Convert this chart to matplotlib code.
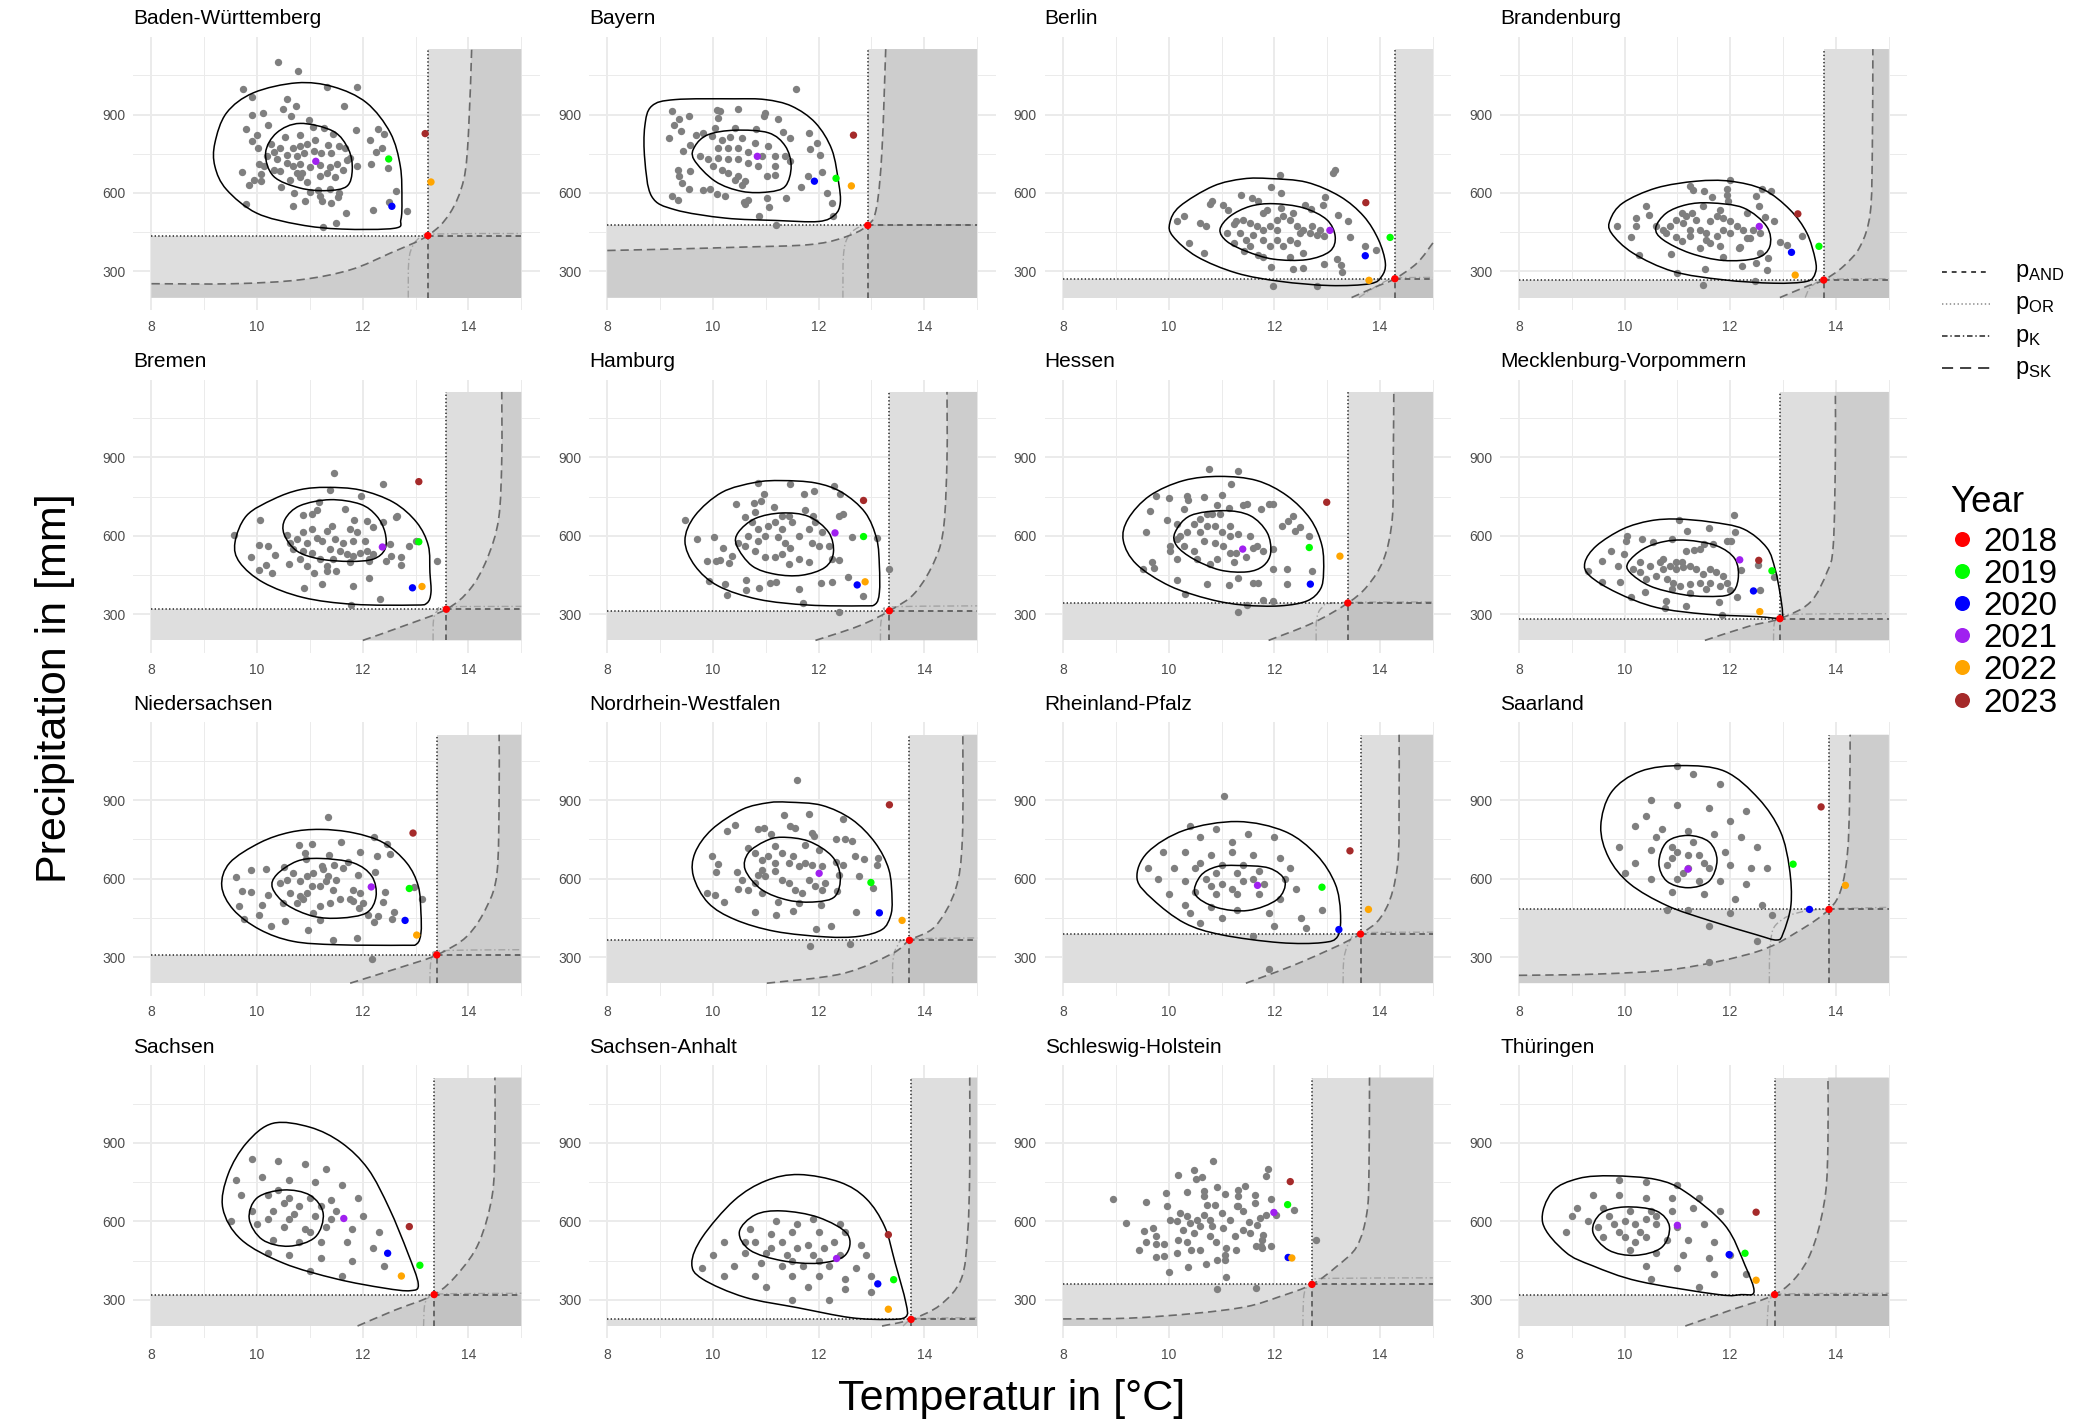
"""Temperature vs precipitation per German state with copula contours and joint-threshold regions."""

import matplotlib
matplotlib.use("Agg")
import matplotlib.pyplot as plt
import numpy as np
from matplotlib.path import Path
from matplotlib.patches import PathPatch, Rectangle

plt.rcParams["font.family"] = ["Liberation Sans", "DejaVu Sans"]
plt.rcParams["mathtext.fontset"] = "custom"
plt.rcParams["mathtext.rm"] = "Liberation Sans"
plt.rcParams["lines.scale_dashes"] = False

YEARS = ["2018", "2019", "2020", "2021", "2022", "2023"]
YEAR_COLORS = ["#FF0000", "#00FF00", "#0000FF", "#A020F0", "#FFA500", "#A52A2A"]

# shading extent (data units)
T_LO, T_HI = 8, 15
P_LO, P_HI = 200, 1150

# ---- Baden-Württemberg
BW_POINTS = [(10.39,1100),(10.77,1068),(11.33,1006),(11.89,1005),(9.74,996),(9.91,966),(10.56,960),(10.73,932),(11.64,934),(10.49,922),(10.12,906),(9.91,900),(10.64,894),(10.98,878),(10.2,858),(11.87,840),(12.29,843),(12.4,827),(9.78,843),(9.99,823),(12.14,802),(9.9,798),(12.25,757),(12.37,772),(12.15,712),(12.48,696),(12.63,608),(12.49,564),(12.2,536),(12.83,532),(11.68,523),(11.49,485),(11.25,470),(9.78,558),(9.72,680),(9.85,632),(9.94,649),(10.08,645),(10.45,623),(10.7,600),(10.68,549),(10.9,568),(11.0,604),(11.16,613),(11.38,616),(11.54,600),(11.53,585),(11.39,560),(11.22,571),(11.19,590),
             (10.02,772),(10.26,789),(10.53,814),(10.81,820),(11.05,853),(11.27,849),(11.44,827),(10.94,789),(11.1,804),(10.68,772),(10.81,779),(10.43,772),(10.31,757),(10.56,747),(10.75,740),(10.89,753),(11.07,760),(11.2,751),(11.39,751),(11.54,779),(11.67,772),(11.71,725),(11.51,712),(11.38,700),(11.19,706),(11.0,700),(10.81,709),(10.68,702),(10.56,715),(10.37,728),(10.18,740),(10.04,711),(10.13,702),(10.07,674),(10.31,689),(10.43,683),(10.75,677),(10.81,661),(10.62,651),(10.94,643),(11.19,664),(11.32,677),(11.47,661),(11.63,687),(11.89,702),(11.76,734),(11.34,784),(10.84,677)]
BW_YEARS = [(13.23,437),(12.49,730),(12.55,549),(11.11,721),(13.29,642),(13.18,827)]
BW_OUTER = [(10.75,1021),(11.44,1006),(12.07,945),(12.52,830),(12.71,702),(12.74,574),(12.72,498),(12.6,465),(11.6,462),(10.8,479),(9.99,523),(9.42,613),(9.2,702),(9.2,791),(9.42,906),(9.93,983)]
BW_INNER = [(10.81,866),(11.44,836),(11.73,766),(11.8,689),(11.7,626),(11.32,609),(10.81,619),(10.31,664),(10.16,753),(10.37,830)]
BW_SK = [(8,253),(9.55,253),(10.81,268),(11.76,306),(12.52,370),(13.23,437),(13.65,523),(13.91,651),(14.0,830),(14.06,1150)]
BW_K = [(12.86,200),(12.87,340),(12.95,400),(13.1,432),(13.3,443),(15,445)]

# ---- Bayern
BY_POINTS = [(11.58,998),(9.23,913),(9.36,883),(9.55,896),(9.26,858),(9.4,836),(9.17,811),(10.07,919),(10.14,915),(10.48,922),(10.98,906),(10.96,894),(11.23,883),(10.1,887),(10.03,849),(10.42,849),(10.81,845),(11.33,834),(11.46,811),(11.82,830),(11.97,792),(11.83,768),(12.03,746),(12.07,679),(11.79,664),(11.67,622),(12.15,600),(12.25,562),(12.28,511),(11.2,479),(10.87,511),(11.39,581),(11.06,546),(11.02,581),(10.58,564),(10.22,587),(10.07,597),(9.95,615),(9.82,613),(9.55,617),(9.41,638),(9.36,664),(9.33,689),(9.22,590),(9.33,574),(9.44,762),(9.57,783),(9.68,823),(9.82,830),(9.98,817),(10.17,804),(10.32,814),(10.55,811),(10.8,792),(11.05,779),(11.18,740),(11.36,740),(11.46,721),(11.18,702),(11.18,670),(11.02,664),(10.86,702),(10.67,715),(10.48,728),(10.29,728),(10.1,734),(9.91,728),(10.01,702),(10.17,689),(10.29,676),(10.48,664),(10.61,645),(10.55,632),(10.42,651),(10.29,772),(10.1,772),(10.48,772),(10.67,756),(10.92,740),(9.76,743),(9.57,683),(10.67,574),(10.61,559)]
BY_YEARS = [(12.93,476),(12.33,656),(11.92,645),(10.84,740),(12.62,627),(12.66,821)]
BY_OUTER = [(9.28,957),(10.4,960),(10.99,957),(11.49,932),(11.94,868),(12.25,766),(12.38,638),(12.41,562),(12.31,517),(12.0,491),(11.18,495),(10.23,504),(9.28,536),(8.84,587),(8.71,728),(8.71,855),(8.84,932)]
BY_INNER = [(10.42,840),(11.05,830),(11.37,779),(11.48,702),(11.37,626),(11.05,604),(10.55,606),(10.04,645),(9.64,728),(9.66,779),(9.91,823)]
BY_SK = [(8,380),(9.3,386),(10.55,393),(11.8,402),(12.45,428),(12.93,476),(13.1,549),(13.2,766),(13.27,1150)]
BY_K = [(12.46,200),(12.47,360),(12.55,430),(12.75,468),(13.0,476),(15,478)]

# ---- Berlin
BE_POINTS = [(12.1,668),(11.93,622),(12.12,600),(13.15,687),(13.11,677),(12.95,585),(12.92,553),(10.81,570),(10.78,559),(11.03,555),(11.37,593),(11.58,580),(11.69,568),(11.86,536),(12.13,543),(12.58,553),(12.69,540),(13.2,517),(13.39,491),(10.29,511),(10.16,491),(10.59,487),(10.7,472),(10.39,408),(10.67,370),(11.13,534),(11.24,483),(11.1,447),(11.24,409),(11.43,377),(11.68,362),(11.93,316),(11.97,243),(12.36,309),(12.55,313),(12.81,246),(12.93,329),(13.18,347),(13.26,325),(13.27,296),(13.43,431),(13.72,396),(13.92,383),(11.28,491),(11.41,498),(11.54,485),(11.67,472),(11.79,460),(11.92,472),(12.04,498),(12.17,511),(12.29,498),(12.42,472),(12.55,460),(12.67,447),(12.8,440),(12.93,434),(12.86,460),(12.71,475),(12.48,447),(12.29,421),(12.17,396),(12.04,421),(11.92,396),(11.79,421),(11.6,440),(11.47,421),(11.35,447),(12.42,409),(12.55,370),(12.29,357),(11.79,357),(11.54,396),(12.04,460),(12.36,523),(11.79,523)]
BE_YEARS = [(14.28,272),(14.19,430),(13.72,360),(13.05,457),(13.79,266),(13.73,563)]
BE_OUTER = [(11.92,655),(12.61,641),(13.24,587),(13.69,511),(13.97,421),(14.1,332),(14.03,281),(13.81,253),(13.05,246),(12.11,262),(11.28,294),(10.53,357),(10.08,434),(10.02,485),(10.21,549),(10.84,626),(11.41,654)]
BE_INNER = [(11.98,559),(12.55,543),(12.99,498),(13.15,434),(13.05,377),(12.61,345),(11.98,347),(11.47,377),(11.1,415),(10.97,460),(11.16,511),(11.54,549)]
BE_SK = [(13.46,200),(13.94,243),(14.28,272),(14.7,332),(15,409)]
BE_K = [(13.6,200),(13.9,240),(14.1,262),(14.3,275),(15,277)]

# ---- Brandenburg
BB_POINTS = [(12.0,651),(11.24,628),(11.29,610),(11.51,606),(11.65,584),(11.94,616),(11.94,593),(11.96,568),(12.61,616),(12.77,606),(12.48,587),(12.55,549),(10.41,551),(10.46,517),(10.21,504),(10.22,472),(9.85,472),(10.13,431),(10.28,364),(10.88,368),(11.0,294),(11.49,249),(11.53,309),(11.87,357),(12.19,393),(12.23,319),(12.48,332),(12.69,306),(12.71,351),(12.46,264),(12.94,412),(13.07,400),(13.35,434),(12.83,491),(12.66,508),(12.31,523),(10.73,460),(10.6,472),(10.79,447),(10.98,431),(11.11,485),(11.17,511),(11.27,523),(11.36,498),(11.43,460),(11.55,447),(11.62,491),(11.75,511),(11.87,504),(12.0,491),(12.13,472),(12.25,460),(12.38,428),(12.44,460),(12.57,447),(11.87,460),(11.75,434),(11.62,409),(11.43,389),(11.24,434),(11.08,415),(10.98,498),(11.08,523),(11.49,549),(11.81,536),(12.0,447),(12.16,389),(12.31,428),(12.57,370),(11.81,396),(11.55,421),(11.24,460),(10.86,472)]
BB_YEARS = [(13.77,267),(13.68,396),(13.16,373),(12.55,472),(13.23,286),(13.28,520)]
BB_OUTER = [(12.0,645),(12.63,613),(13.13,536),(13.45,447),(13.61,345),(13.61,294),(13.45,262),(12.82,255),(11.87,268),(10.92,300),(10.16,370),(9.75,447),(9.73,498),(9.97,562),(10.6,619),(11.36,645)]
BB_INNER = [(11.62,562),(12.25,543),(12.69,472),(12.75,396),(12.5,351),(11.87,342),(11.24,370),(10.73,421),(10.59,466),(10.79,523),(11.17,555)]
BB_SK = [(12.94,200),(13.45,243),(13.77,267),(14.14,319),(14.46,396),(14.65,523),(14.69,766),(14.7,1150)]
BB_K = [(13.42,200),(13.5,235),(13.65,260),(13.8,270),(15,272)]

# ---- Bremen
HB_POINTS = [(11.46,839),(12.39,798),(9.56,602),(10.05,660),(11.38,775),(11.97,753),(11.18,728),(11.67,702),(11.13,700),(10.87,679),(11.03,683),(12.64,677),(12.63,670),(12.38,651),(11.83,660),(12.07,657),(12.2,632),(12.51,570),(12.87,559),(13.0,581),(12.73,519),(13.4,504),(10.04,564),(10.21,559),(9.89,519),(10.34,525),(10.16,489),(10.03,468),(10.28,457),(10.61,493),(10.89,402),(11.08,459),(11.23,415),(11.33,464),(11.82,409),(12.11,438),(12.32,358),(11.78,334),(12.44,504),(12.53,523),(12.73,489),(12.11,502),(10.56,602),(10.62,574),(10.75,587),(10.87,613),(10.94,574),(11.03,625),(11.13,593),(11.22,581),(11.32,619),(11.41,638),(11.47,587),(11.57,543),(11.44,511),(11.32,485),(11.19,511),(11.03,536),(10.87,543),(10.81,511),(10.94,485),(11.76,625),(11.89,613),(11.82,581),(11.95,536),(12.07,543),(12.2,530),(12.11,511),(11.82,523),(11.7,530),(11.76,498),(11.5,466),(10.68,549),(11.38,549),(11.63,574),(12.04,581)]
HB_YEARS = [(13.58,319),(13.06,577),(12.94,401),(12.37,557),(13.12,406),(13.06,807)]
HB_OUTER = [(11.32,785),(11.95,775),(12.58,728),(13.02,651),(13.24,562),(13.27,460),(13.29,383),(13.21,342),(12.96,335),(11.82,338),(10.87,364),(10.12,421),(9.67,498),(9.58,574),(9.8,677),(10.31,740),(10.81,776)]
HB_INNER = [(11.38,738),(11.95,721),(12.26,676),(12.42,613),(12.42,549),(12.2,511),(11.76,502),(11.19,511),(10.75,542),(10.51,606),(10.53,664),(10.81,715)]
HB_SK = [(12.0,200),(12.77,255),(13.58,319),(14.03,396),(14.35,511),(14.57,664),(14.63,894),(14.63,1150)]
HB_K = [(13.33,200),(13.34,280),(13.42,315),(13.6,328),(15,330)]

# ---- Hamburg
HH_POINTS = [(10.86,802),(11.45,797),(12.3,790),(12.41,760),(10.97,760),(10.9,732),(10.77,725),(10.44,723),(11.16,709),(11.73,760),(11.92,770),(11.75,698),(11.89,674),(12.46,683),(9.47,662),(9.69,587),(10.02,597),(10.19,554),(10.36,523),(9.88,502),(10.06,504),(10.14,508),(10.3,496),(9.93,428),(10.22,415),(10.27,374),(10.63,432),(10.63,391),(10.88,402),(11.08,419),(11.19,424),(11.63,396),(11.7,344),(12.04,419),(12.25,424),(12.55,444),(12.84,368),(12.38,310),(13.33,472),(13.11,591),(12.64,594),(12.39,677),(10.61,672),(10.74,651),(10.86,625),(10.67,600),(10.86,581),(10.99,600),(11.05,638),(11.18,651),(11.3,676),(11.43,676),(11.49,651),(11.3,625),(11.24,594),(11.37,574),(11.46,555),(11.3,530),(11.18,517),(10.99,517),(10.8,543),(10.61,562),(11.62,600),(11.81,625),(11.94,651),(12.07,613),(11.88,574),(12.0,562),(12.19,562),(12.25,511),(12.38,508),(11.81,498),(11.62,511),(11.43,492),(10.8,689),(10.48,574)]
HH_YEARS = [(13.34,313),(12.85,597),(12.73,412),(12.31,611),(12.88,424),(12.85,735)]
HH_OUTER = [(11.3,811),(11.94,802),(12.44,766),(12.88,689),(13.1,587),(13.15,485),(13.15,383),(13.07,338),(12.82,332),(11.81,335),(10.86,357),(10.1,408),(9.66,485),(9.47,581),(9.66,677),(10.17,766),(10.8,804)]
HH_INNER = [(11.3,687),(11.81,674),(12.19,613),(12.28,536),(12.12,479),(11.68,449),(11.18,453),(10.74,485),(10.45,562),(10.48,613),(10.8,666)]
HH_SK = [(11.94,200),(12.76,255),(13.34,313),(13.83,383),(14.21,511),(14.37,638),(14.43,894),(14.43,1150)]
HH_K = [(13.17,200),(13.18,270),(13.25,310),(13.4,328),(15,332)]

# ---- Hessen
HE_POINTS = [(10.76,855),(11.31,849),(11.17,798),(9.76,753),(10.01,743),(10.35,753),(10.36,738),(10.66,747),(11.0,755),(9.64,696),(9.97,662),(10.15,645),(10.29,704),(11.14,708),(11.4,717),(11.49,720),(11.75,704),(11.89,720),(11.97,720),(12.15,638),(12.25,657),(12.36,676),(12.48,632),(12.39,619),(12.66,600),(9.57,615),(9.68,500),(9.52,472),(9.72,475),(10.02,543),(10.15,513),(10.15,429),(10.31,378),(10.73,417),(11.14,411),(11.32,438),(11.6,421),(11.68,421),(11.98,472),(12.23,472),(12.23,415),(11.79,354),(11.97,351),(11.49,334),(11.31,308),(12.71,464),(11.6,555),(11.79,543),(11.97,549),(11.47,517),(11.23,498),(10.91,511),(10.78,491),(10.53,511),(10.47,543),(10.28,562),(10.22,600),(10.34,613),(10.47,645),(10.59,664),(10.72,683),(10.82,683),(10.97,683),(11.16,638),(11.32,606),(11.16,600),(11.0,613),(10.87,638),(10.72,638),(10.59,613),(10.66,581),(10.87,574),(11.03,562),(11.16,536),(11.28,536),(11.54,600),(11.67,562),(10.91,717),(10.15,587),(10.02,562)]
HE_YEARS = [(13.39,343),(12.66,555),(12.68,415),(11.4,549),(13.24,522),(12.99,728)]
HE_OUTER = [(10.97,827),(11.67,811),(12.24,753),(12.68,664),(12.9,562),(12.93,460),(12.87,396),(12.62,351),(12.11,332),(11.42,335),(10.78,357),(10.02,408),(9.39,491),(9.14,581),(9.23,664),(9.64,753),(10.28,811)]
HE_INNER = [(11.04,696),(11.54,677),(11.86,613),(11.93,536),(11.79,485),(11.48,462),(10.97,469),(10.47,511),(10.15,562),(10.12,613),(10.41,677)]
HE_SK = [(11.89,200),(12.74,268),(13.39,343),(13.76,408),(14.07,511),(14.23,664),(14.25,894),(14.26,1150)]
HE_K = [(12.79,200),(12.8,280),(12.9,325),(13.2,344),(15,347)]

# ---- Mecklenburg-Vorpommern
MV_POINTS = [(12.08,679),(11.03,660),(11.19,619),(11.6,629),(12.1,616),(10.05,600),(10.03,581),(10.33,587),(10.54,577),(10.89,587),(11.93,581),(12.01,581),(11.67,570),(11.5,568),(11.17,543),(11.32,547),(11.42,549),(9.74,543),(9.99,532),(9.57,504),(9.87,483),(9.3,466),(9.57,423),(9.91,425),(10.13,364),(10.39,385),(10.78,352),(10.77,323),(11.17,332),(11.79,345),(11.85,296),(12.0,391),(12.12,366),(12.2,468),(12.53,487),(12.56,391),(12.83,442),(10.29,498),(10.48,485),(10.67,498),(10.73,472),(10.86,485),(10.98,472),(11.11,479),(11.24,485),(11.36,472),(11.49,453),(11.62,472),(11.74,460),(11.87,447),(11.93,421),(11.81,408),(11.62,421),(11.42,421),(11.24,415),(11.05,408),(10.92,421),(10.8,434),(10.6,447),(10.41,434),(10.29,460),(10.73,511),(11.08,498),(10.89,396),(11.24,383),(11.55,396),(10.16,472),(10.98,498)]
MV_YEARS = [(12.94,283),(12.79,466),(12.44,389),(12.18,508),(12.56,310),(12.54,506)]
MV_OUTER = [(10.98,664),(11.62,653),(12.25,626),(12.69,555),(12.85,472),(12.94,383),(12.99,306),(12.94,285),(12.5,291),(11.55,300),(10.6,326),(9.85,383),(9.34,447),(9.25,498),(9.47,562),(9.97,626),(10.48,657)]
MV_INNER = [(11.17,583),(11.74,562),(12.09,511),(12.15,434),(12.0,377),(11.55,368),(11.05,377),(10.48,408),(10.1,460),(10.07,498),(10.35,549),(10.73,577)]
MV_SK = [(11.52,200),(12.37,255),(12.94,283),(13.51,345),(13.83,460),(13.95,562),(13.99,894),(13.99,1150)]
MV_K = [(12.82,200),(12.83,260),(12.9,290),(13.1,300),(15,302)]

# ---- Niedersachsen
NI_POINTS = [(11.35,835),(11.04,734),(10.8,728),(11.58,740),(12.21,758),(12.45,734),(11.95,701),(12.27,686),(12.52,694),(11.36,689),(10.91,696),(10.93,673),(11.22,647),(11.25,637),(11.46,650),(11.62,641),(11.72,665),(10.51,643),(10.17,637),(9.88,634),(9.6,606),(9.72,554),(9.88,548),(9.66,494),(9.76,447),(10.03,462),(10.2,539),(10.1,498),(10.27,420),(10.52,437),(10.96,402),(11.19,443),(11.44,364),(11.89,374),(11.93,488),(12.42,549),(12.39,511),(12.59,472),(12.55,447),(12.21,433),(12.28,458),(12.09,460),(12.23,624),(11.9,613),(13.12,520),(12.97,568),(12.17,292),(10.43,583),(10.56,596),(10.68,622),(10.81,590),(10.94,609),(11.03,571),(10.94,545),(10.81,532),(10.62,545),(10.49,507),(10.75,507),(10.87,520),(11.19,571),(11.31,590),(11.44,558),(11.57,520),(11.38,507),(11.19,494),(11.06,469),(11.76,520),(11.82,513),(12.01,507),(11.95,545),(11.82,558),(11.5,596),(11.35,609),(11.06,622)]
NI_YEARS = [(13.4,308),(12.88,562),(12.8,440),(12.16,568),(13.02,384),(12.95,774)]
NI_OUTER = [(11.19,788),(11.82,775),(12.39,737),(12.83,660),(13.05,571),(13.1,469),(13.1,392),(13.02,350),(12.77,345),(11.51,347),(10.68,360),(10.05,405),(9.55,481),(9.33,571),(9.48,660),(10.05,737),(10.62,777)]
NI_INNER = [(11.19,677),(11.82,660),(12.17,609),(12.25,532),(12.07,469),(11.57,449),(11.06,456),(10.56,500),(10.29,564),(10.37,615),(10.75,666)]
NI_SK = [(11.76,200),(12.77,264),(13.4,308),(13.97,379),(14.35,494),(14.54,622),(14.58,903),(14.58,1150)]
NI_K = [(13.27,200),(13.28,270),(13.33,305),(13.5,324),(15,328)]

# ---- Nordrhein-Westfalen
NW_POINTS = [(11.59,977),(11.34,843),(11.82,845),(12.47,826),(10.42,805),(10.26,781),(10.85,788),(10.96,792),(11.45,802),(11.56,792),(11.87,774),(11.91,764),(12.33,753),(12.49,751),(12.63,743),(11.1,769),(11.17,724),(10.67,715),(9.98,688),(10.09,655),(10.05,624),(10.45,624),(10.48,559),(9.88,545),(10.03,536),(10.2,509),(10.79,472),(11.19,460),(11.51,475),(12.04,498),(11.95,408),(12.24,419),(11.84,341),(12.6,351),(12.71,472),(12.77,609),(12.69,686),(12.86,674),(13.1,651),(13.13,679),(13.03,564),(12.47,651),(12.33,662),(12.0,709),(11.75,728),(10.8,698),(10.92,672),(11.05,685),(11.18,660),(11.3,698),(11.43,660),(11.52,685),(11.62,647),(11.75,660),(11.87,653),(12.06,647),(11.94,571),(12.06,558),(12.13,583),(12.35,551),(12.38,615),(11.81,596),(11.69,545),(11.56,558),(11.43,583),(11.3,596),(11.18,628),(10.99,609),(10.86,615),(10.8,583),(10.92,545),(11.24,509),(11.62,507),(10.67,558),(10.55,596),(10.92,634)]
NW_YEARS = [(13.72,364),(12.99,585),(13.15,469),(12.01,620),(13.58,440),(13.34,882)]
NW_OUTER = [(11.43,892),(12.06,880),(12.63,826),(13.07,737),(13.33,634),(13.39,520),(13.36,456),(13.2,405),(12.76,379),(12.13,377),(11.18,398),(10.42,443),(9.91,507),(9.63,609),(9.66,698),(9.98,788),(10.55,864),(11.05,890)]
NW_INNER = [(11.3,758),(11.81,743),(12.25,686),(12.41,609),(12.31,532),(11.94,511),(11.43,517),(10.92,558),(10.61,634),(10.67,698),(10.99,743)]
NW_SK = [(11.02,200),(12.44,236),(13.39,313),(13.72,364),(14.21,418),(14.59,558),(14.72,749),(14.73,1150)]
NW_K = [(13.4,200),(13.41,290),(13.5,345),(13.72,368),(15,373)]

# ---- Rheinland-Pfalz
RP_POINTS = [(11.05,915),(10.4,800),(10.9,790),(11.5,770),(12.0,760),(9.9,700),(10.3,700),(10.8,690),(11.2,700),(11.6,690),(12.1,680),(9.6,640),(10.1,640),(10.5,640),(10.9,620),(11.3,620),(11.7,630),(12.3,640),(9.8,600),(10.3,590),(10.7,600),(11.0,580),(11.4,590),(11.8,580),(12.4,560),(10.0,540),(10.5,550),(10.9,540),(11.3,540),(11.7,540),(12.1,520),(10.3,500),(10.8,490),(11.3,480),(11.9,470),(12.5,450),(11.0,450),(12.0,420),(12.6,410),(11.6,380),(12.9,480),(10.6,430),
             (10.6,760),(11.2,740),(10.6,660),(11.0,650),(11.4,650),(10.8,570),(11.2,560),(11.6,600),(10.4,470),(12.2,600),(11.9,255)]
RP_YEARS = [(13.63,388),(12.9,567),(13.22,405),(11.68,574),(13.78,482),(13.43,706)]
RP_OUTER = [(11.3,818),(12.2,780),(12.8,690),(13.15,580),(13.25,470),(13.2,380),(12.9,355),(12.1,355),(11.0,385),(10.3,430),(9.7,520),(9.4,600),(9.6,700),(10.3,785)]
RP_INNER = [(11.3,650),(11.9,640),(12.2,590),(12.05,520),(11.5,478),(10.9,490),(10.5,540),(10.6,610),(10.9,645)]
RP_SK = [(11.46,200),(12.5,280),(13.63,388),(14.1,480),(14.33,650),(14.36,900),(14.36,1150)]
RP_K = [(13.3,200),(13.32,300),(13.45,370),(13.65,392),(15,395)]

# ---- Saarland
SL_POINTS = [(11.0,1030),(11.3,1000),(11.8,960),(10.5,900),(11.0,880),(11.6,870),(12.3,860),(10.2,800),(10.7,790),(11.2,780),(11.7,770),(12.2,760),(9.9,720),(10.5,710),(11.0,700),(11.4,690),(11.9,700),(12.5,720),(10.2,660),(10.8,650),(11.2,640),(11.6,640),(12.0,650),(12.7,640),(10.5,600),(11.0,600),(11.4,590),(11.8,590),(12.3,580),(10.9,550),(11.5,540),(12.1,520),(12.6,500),(11.2,480),(12.0,470),(12.8,460),(11.6,420),(10.8,480),(10.0,620),(11.6,280),(12.5,360),
             (10.9,720),(11.2,690),(11.5,660),(11.1,620),(10.9,680),(11.3,740),(10.6,760),(12.0,820),(12.4,640),(10.4,840)]
SL_YEARS = [(13.87,482),(13.19,655),(13.5,482),(11.2,636),(14.18,574),(13.72,874)]
SL_OUTER = [(11.08,1032),(11.9,1010),(12.54,905),(12.95,780),(13.12,640),(13.15,500),(13.0,390),(12.88,365),(12.5,385),(11.6,440),(10.8,497),(10.1,580),(9.7,680),(9.55,800),(9.75,930),(10.3,1010)]
SL_INNER = [(11.2,765),(11.6,740),(11.75,670),(11.6,590),(11.2,565),(10.8,590),(10.65,660),(10.8,740)]
SL_SK = [(8,230),(9.5,235),(11.0,255),(12.5,320),(13.3,400),(13.87,482),(14.1,560),(14.22,700),(14.26,900),(14.27,1150)]
SL_K = [(12.74,200),(12.76,350),(12.9,430),(13.5,478),(15,490)]

# ---- Sachsen
SN_POINTS = [(9.9,840),(10.4,830),(10.9,820),(11.3,800),(9.6,760),(10.1,770),(10.6,760),(11.1,750),(11.6,740),(9.7,700),(10.2,700),(10.6,690),(11.0,690),(11.4,680),(11.9,690),(9.9,640),(10.3,640),(10.7,630),(11.1,620),(11.5,640),(12.0,620),(10.0,590),(10.5,580),(10.9,570),(11.3,580),(11.8,570),(12.3,560),(10.3,530),(10.8,520),(11.2,520),(11.7,520),(12.2,500),(10.6,470),(11.2,460),(11.8,450),(12.4,430),(11.0,410),(11.6,390),(10.2,480),(9.5,600),
             (10.4,720),(10.8,660),(10.6,610),(11.2,660),(10.2,610),(11.4,610),(10.5,670),(11.0,560)]
SN_YEARS = [(13.35,320),(13.08,432),(12.47,478),(11.64,611),(12.73,391),(12.88,580)]
SN_OUTER = [(10.3,975),(11.0,960),(11.6,900),(12.1,800),(12.5,650),(12.85,480),(13.05,360),(12.9,335),(12.4,345),(11.5,380),(10.5,440),(9.7,530),(9.35,650),(9.45,780),(9.8,900)]
SN_INNER = [(10.5,720),(11.0,700),(11.25,630),(11.1,540),(10.6,505),(10.1,530),(9.85,610),(10.0,690)]
SN_SK = [(11.9,200),(12.6,260),(13.35,320),(13.8,400),(14.2,520),(14.45,700),(14.5,900),(14.5,1150)]
SN_K = [(13.15,200),(13.17,280),(13.25,310),(13.4,322),(15,325)]

# ---- Sachsen-Anhalt
ST_POINTS = [(11.9,610),(11.2,600),(12.4,590),(10.7,570),(11.5,560),(12.0,560),(12.5,560),(10.2,520),(10.8,520),(11.3,520),(11.8,510),(12.3,520),(12.8,510),(10.0,470),(10.6,480),(11.0,480),(11.4,470),(11.9,470),(12.4,470),(10.4,430),(10.9,440),(11.3,430),(11.7,430),(12.2,430),(12.7,420),(10.2,390),(10.8,390),(11.5,390),(12.0,390),(12.5,380),(13.0,390),(11.0,350),(11.8,350),(12.5,340),(11.5,300),(12.2,300),(13.0,330),(9.8,420),(12.9,470),
             (11.6,590),(11.1,550),(11.6,500),(12.1,500),(11.1,500),(11.5,450),(12.0,450),(10.6,520)]
ST_YEARS = [(13.75,225),(13.42,377),(13.12,361),(12.34,458),(13.32,264),(13.32,549)]
ST_OUTER = [(11.63,779),(12.4,750),(12.9,687),(13.25,580),(13.45,440),(13.65,290),(13.65,235),(13.3,225),(12.6,232),(11.6,270),(10.6,310),(9.8,380),(9.6,440),(9.8,540),(10.4,680),(11.0,755)]
ST_INNER = [(11.3,640),(12.0,615),(12.55,550),(12.5,470),(12.0,440),(11.3,450),(10.7,490),(10.5,560),(10.8,625)]
ST_SK = [(13.2,200),(13.75,225),(14.3,280),(14.7,380),(14.82,550),(14.86,800),(14.86,1150)]
ST_K = [(13.6,200),(13.7,218),(13.85,228),(15,232)]

# ---- Schleswig-Holstein (no contours)
SH_POINTS = [(8.95,686),(9.19,594),(9.57,673),(9.53,562),(9.43,489),(9.57,521),(9.75,515),(9.76,462),(9.91,466),(9.91,515),(10.0,408),(9.94,708),(10.18,776),(10.48,798),(10.84,830),(10.51,763),(10.62,768),(10.35,712),(10.67,696),(10.92,730),(11.07,706),(11.31,721),(11.45,734),(11.31,696),(11.63,702),(11.87,802),(11.85,772),(11.93,687),(11.63,670),(12.03,626),(12.37,642),(12.78,527),(11.74,504),(11.93,507),(11.76,530),(11.77,500),(11.65,504),(11.27,491),(11.26,543),(11.08,498),(11.07,470),(10.92,451),(11.06,451),(11.09,389),(10.92,341),(11.66,345),(10.36,427),(10.7,437),(9.97,660),(10.02,606),(10.15,600),(10.21,632),(10.34,619),(10.41,594),(10.27,568),(10.18,530),(10.34,523),(10.47,555),(10.59,581),(10.53,606),(10.66,626),(10.78,606),(10.81,581),(10.72,664),(10.88,664),(11.0,632),(11.03,574),(11.16,606),(11.29,657),(11.41,638),(11.51,597),(11.41,568),(11.54,555),(11.67,587),(11.73,613),(11.79,549),(11.85,626),(10.43,491),(10.59,491),(10.78,543),(10.9,523),(10.15,479),(9.7,575),(9.76,543),(11.31,657),(10.66,715)]
SH_YEARS = [(12.71,359),(12.25,664),(12.26,462),(11.99,634),(12.33,460),(12.3,752)]
SH_OUTER = []
SH_INNER = []
SH_SK = [(8,227),(9.26,230),(10.53,249),(11.47,274),(12.11,313),(12.71,359),(13.18,428),(13.56,504),(13.75,632),(13.79,798),(13.8,1150)]
SH_K = [(12.54,200),(12.55,300),(12.6,345),(12.75,375),(13.0,382),(15,384)]

# ---- Thüringen
TH_POINTS = [(9.9,760),(10.4,750),(11.0,740),(9.4,700),(9.9,700),(10.4,690),(10.9,690),(11.4,690),(9.1,650),(9.6,650),(10.1,640),(10.5,640),(10.9,640),(11.3,650),(11.8,640),(9.3,600),(9.8,590),(10.2,590),(10.6,590),(11.0,580),(11.5,590),(9.6,540),(10.0,540),(10.4,540),(10.8,530),(11.2,530),(11.7,520),(10.1,490),(10.6,480),(11.1,470),(11.6,460),(12.0,470),(10.4,430),(11.0,420),(11.7,400),(12.3,400),(10.5,380),(11.4,350),(8.9,560),(9.0,620),
             (9.7,620),(10.0,600),(10.3,560),(9.9,560),(10.6,620),(10.2,520),(9.5,580),(10.4,610)]
TH_YEARS = [(12.84,320),(12.28,478),(11.98,473),(11.0,585),(12.49,375),(12.49,635)]
TH_OUTER = [(9.77,774),(10.6,760),(11.15,713),(11.9,585),(12.28,432),(12.45,330),(12.2,320),(11.78,320),(10.27,371),(9.4,430),(8.88,483),(8.45,595),(8.63,713),(9.13,764)]
TH_INNER = [(10.0,655),(10.6,640),(10.85,580),(10.7,500),(10.2,470),(9.7,490),(9.4,560),(9.55,630)]
TH_SK = [(11.15,200),(12.0,260),(12.84,320),(13.3,400),(13.6,520),(13.8,700),(13.85,900),(13.85,1150)]
TH_K = [(12.7,200),(12.72,280),(12.78,310),(12.9,322),(15,325)]

PANELS = [
    ("Baden-Württemberg", BW_POINTS, BW_YEARS, BW_OUTER, BW_INNER, BW_SK, BW_K),
    ("Bayern", BY_POINTS, BY_YEARS, BY_OUTER, BY_INNER, BY_SK, BY_K),
    ("Berlin", BE_POINTS, BE_YEARS, BE_OUTER, BE_INNER, BE_SK, BE_K),
    ("Brandenburg", BB_POINTS, BB_YEARS, BB_OUTER, BB_INNER, BB_SK, BB_K),
    ("Bremen", HB_POINTS, HB_YEARS, HB_OUTER, HB_INNER, HB_SK, HB_K),
    ("Hamburg", HH_POINTS, HH_YEARS, HH_OUTER, HH_INNER, HH_SK, HH_K),
    ("Hessen", HE_POINTS, HE_YEARS, HE_OUTER, HE_INNER, HE_SK, HE_K),
    ("Mecklenburg-Vorpommern", MV_POINTS, MV_YEARS, MV_OUTER, MV_INNER, MV_SK, MV_K),
    ("Niedersachsen", NI_POINTS, NI_YEARS, NI_OUTER, NI_INNER, NI_SK, NI_K),
    ("Nordrhein-Westfalen", NW_POINTS, NW_YEARS, NW_OUTER, NW_INNER, NW_SK, NW_K),
    ("Rheinland-Pfalz", RP_POINTS, RP_YEARS, RP_OUTER, RP_INNER, RP_SK, RP_K),
    ("Saarland", SL_POINTS, SL_YEARS, SL_OUTER, SL_INNER, SL_SK, SL_K),
    ("Sachsen", SN_POINTS, SN_YEARS, SN_OUTER, SN_INNER, SN_SK, SN_K),
    ("Sachsen-Anhalt", ST_POINTS, ST_YEARS, ST_OUTER, ST_INNER, ST_SK, ST_K),
    ("Schleswig-Holstein", SH_POINTS, SH_YEARS, SH_OUTER, SH_INNER, SH_SK, SH_K),
    ("Thüringen", TH_POINTS, TH_YEARS, TH_OUTER, TH_INNER, TH_SK, TH_K),
]

# layout in pixels
FIG_W, FIG_H, DPI = 2089, 1421, 100
COL_LEFT = [133, 588.8, 1044.6, 1500.4]
ROW_TOP = [36.7, 379.5, 722.3, 1065.1]
PANEL_W, PANEL_H = 406.8, 273.3

OR_FILL, SK_FILL, AND_FILL = "#DEDEDE", "#CDCDCD", "#C2C2C2"
OR_STYLE = dict(color="#262626", lw=1.1, ls=(0, (1, 1.6)))
AND_STYLE = dict(color="#555555", lw=1.2, ls=(0, (4, 3)))
SK_STYLE = dict(color="#6A6A6A", lw=1.2, ls=(0, (6, 3.5)))
K_STYLE = dict(color="#A3A3A3", lw=1.0, ls=(0, (5, 2, 1, 2)))


def spline_path(pts, closed):
    """Catmull-Rom through the read vertices, as cubic Bezier segments."""
    pts = np.asarray(pts, float)
    n = len(pts)
    if closed:
        ext = np.vstack([pts[-1], pts, pts[0], pts[1]])
        nseg = n
    else:
        ext = np.vstack([pts[0], pts, pts[-1]])
        nseg = n - 1
    verts = [ext[1]]
    codes = [Path.MOVETO]
    for i in range(1, nseg + 1):
        p0, p1, p2, p3 = ext[i - 1], ext[i], ext[i + 1], ext[i + 2]
        verts += [p1 + (p2 - p0) / 6, p2 - (p3 - p1) / 6, p2]
        codes += [Path.CURVE4] * 3
    return verts, codes


def draw_panel(ax, points, years, outer, inner, sk, kcurve):
    t18, p18 = years[0]

    # threshold regions
    ax.add_patch(Rectangle((t18, p18), T_HI - t18, P_HI - p18, color=OR_FILL, lw=0, zorder=1))
    ax.add_patch(Rectangle((T_LO, P_LO), T_HI - T_LO, p18 - P_LO, color=OR_FILL, lw=0, zorder=1))
    verts, codes = spline_path(sk, closed=False)
    verts += [(T_HI, P_HI), (T_HI, P_LO), (T_LO, P_LO), verts[0]]
    codes += [Path.LINETO, Path.LINETO, Path.LINETO, Path.CLOSEPOLY]
    ax.add_patch(PathPatch(Path(verts, codes), facecolor=SK_FILL, lw=0, zorder=1.1))
    ax.add_patch(Rectangle((t18, P_LO), T_HI - t18, p18 - P_LO, color=AND_FILL, lw=0, zorder=1.2))

    # threshold lines
    verts, codes = spline_path(kcurve, closed=False)
    ax.add_patch(PathPatch(Path(verts, codes), fill=False, zorder=2, **K_STYLE))
    verts, codes = spline_path(sk, closed=False)
    ax.add_patch(PathPatch(Path(verts, codes), fill=False, zorder=2, **SK_STYLE))
    ax.plot([t18, t18], [P_LO, p18], zorder=2.1, **AND_STYLE)
    ax.plot([t18, T_HI], [p18, p18], zorder=2.1, **AND_STYLE)
    ax.plot([t18, t18], [p18, P_HI], zorder=2.1, **OR_STYLE)
    ax.plot([T_LO, t18], [p18, p18], zorder=2.1, **OR_STYLE)

    # observations
    pts = np.asarray(points, float)
    ax.scatter(pts[:, 0], pts[:, 1], s=28, color="#7F7F7F", linewidths=0, zorder=2.5)

    for contour in (outer, inner):
        if contour:
            verts, codes = spline_path(contour, closed=True)
            ax.add_patch(PathPatch(Path(verts, codes), fill=False, edgecolor="black",
                                   lw=1.1, zorder=3))

    yrs = np.asarray(years, float)
    ax.scatter(yrs[:, 0], yrs[:, 1], s=28, c=YEAR_COLORS, linewidths=0, zorder=4)

    ax.set_xlim(7.65, 15.35)
    ax.set_ylim(152.5, 1197.5)
    ax.set_xticks([8, 10, 12, 14])
    ax.set_yticks([300, 600, 900])
    ax.set_xticks([9, 11, 13, 15], minor=True)
    ax.set_yticks([450, 750, 1050], minor=True)
    ax.grid(which="major", color="#EBEBEB", lw=1.4)
    ax.grid(which="minor", color="#EBEBEB", lw=0.7)
    ax.set_axisbelow(True)
    ax.tick_params(which="both", length=0, labelsize=10, labelcolor="#4D4D4D")
    ax.tick_params(axis="x", pad=7)
    ax.tick_params(axis="y", pad=5.5)
    for spine in ax.spines.values():
        spine.set_visible(False)


fig = plt.figure(figsize=(FIG_W / DPI, FIG_H / DPI), dpi=DPI, facecolor="white")

for i, (name, points, years, outer, inner, sk, kcurve) in enumerate(PANELS):
    left, top = COL_LEFT[i % 4], ROW_TOP[i // 4]
    ax = fig.add_axes([left / FIG_W, 1 - (top + PANEL_H) / FIG_H, PANEL_W / FIG_W, PANEL_H / FIG_H])
    draw_panel(ax, points, years, outer, inner, sk, kcurve)

# overlay in pixel coordinates for titles and legends
ov = fig.add_axes([0, 0, 1, 1], zorder=10)
ov.set_xlim(0, FIG_W)
ov.set_ylim(FIG_H, 0)
ov.axis("off")
ov.patch.set_visible(False)

for i, (name, *_rest) in enumerate(PANELS):
    ov.text(COL_LEFT[i % 4], ROW_TOP[i // 4] - 12.4, name, fontsize=15, ha="left", va="baseline")

ov.text(1012, 1410, "Temperatur in [°C]", fontsize=31, ha="center", va="baseline")
ov.text(55, 688, "Precipitation in [mm]", fontsize=31, ha="center", va="center", rotation=90)

# line legend
line_legend = [
    (r"$\mathregular{p_{AND}}$", dict(color="#333333", lw=1.3, ls=(0, (3.5, 3.5)))),
    (r"$\mathregular{p_{OR}}$", dict(color="#9A9A9A", lw=1.3, ls=(0, (1, 1.8)))),
    (r"$\mathregular{p_{K}}$", dict(color="#444444", lw=1.3, ls=(0, (4, 2, 1, 2)))),
    (r"$\mathregular{p_{SK}}$", dict(color="#333333", lw=1.3, ls=(0, (8, 5)))),
]
for j, (label, style) in enumerate(line_legend):
    y = 271.7 + j * 32.2
    ov.plot([1942, 1990], [y, y], **style)
    ov.text(2015, y + 5.5, label, fontsize=17, ha="left", va="baseline")

# year legend
ov.text(1950, 511.7, "Year", fontsize=26.5, ha="left", va="baseline")
for j, (year, color) in enumerate(zip(YEARS, YEAR_COLORS)):
    y = 539 + j * 32.1
    ov.scatter([1961.7], [y], s=117, color=color, linewidths=0)
    ov.text(1983, y + 12, year, fontsize=24, ha="left", va="baseline")

fig.savefig("out.png", dpi=DPI, facecolor="white")
